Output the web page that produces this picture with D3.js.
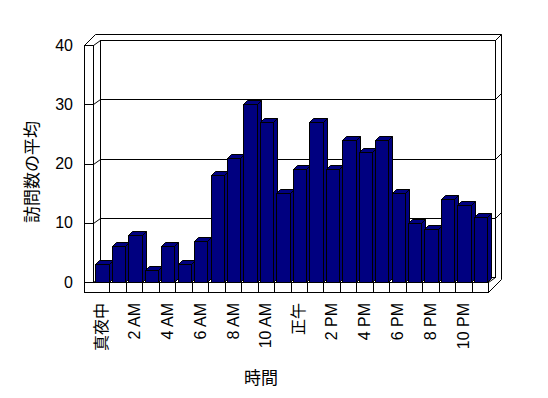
<!DOCTYPE html>
<html>
<head>
<meta charset="utf-8">
<script src="https://cdn.jsdelivr.net/npm/d3@7"></script>
<style>
  body { margin: 0; background: #fff; }
  text { font-family: "Liberation Sans", "Noto Sans CJK JP", sans-serif; fill: #000; }
</style>
</head>
<body>
<svg id="chart" width="548" height="398"></svg>
<script>
// data
const categories = ["真夜中","1 AM","2 AM","3 AM","4 AM","5 AM","6 AM","7 AM","8 AM","9 AM","10 AM","11 AM",
                    "正午","1 PM","2 PM","3 PM","4 PM","5 PM","6 PM","7 PM","8 PM","9 PM","10 PM","11 PM"]
const visits = [3,6,8,2,6,3,7,18,21,30,27,15,19,27,19,24,22,24,15,10,9,14,13,11]
const yTicks = [0,10,20,30,40]
const gridValues = [10,20,30]

const svg = d3.select("#chart")

// plot frame (front face of the floor / walls)
const left = 93, right = 488, base = 282
const wallX = 84, floorBottom = 292
// depth offset from front plane to back wall
const ddx = 7, ddy = -5
// thickness of back wall
const tdx = 6, tdy = -6
// bar depth
const bdx = 4, bdy = -4

const x = d3.scaleBand().domain(categories).range([left, right])
const y = d3.scaleLinear().domain([0, 40]).range([base, 45])
const bw = x.bandwidth()

const g = svg.append("g").attr("transform", "translate(0.5,0.5)")
const line = (pts) => "M" + pts.map(p => p.join(",")).join("L")
const stroke = (sel) => sel.attr("fill", "none").attr("stroke", "#000").attr("stroke-width", 1)

const plotTop = y(40)
const backL = left + ddx, backR = right + ddx, backTop = plotTop + ddy, backBase = base + ddy

// back wall and outer edge
g.append("rect").attr("x", backL).attr("y", backTop).attr("width", backR - backL).attr("height", backBase - backTop)
  .attr("fill", "#fff").attr("stroke", "#000")
g.append("path").attr("d", line([[wallX, plotTop], [wallX + 11, backTop + tdy], [backR + tdx, backTop + tdy],
                                 [backR + tdx, backBase + 2], [right, floorBottom]])).call(stroke)
g.append("path").attr("d", line([[backR, backTop], [backR + tdx, backTop + tdy]])).call(stroke)

// left wall
g.append("rect").attr("x", wallX).attr("y", plotTop).attr("width", left - wallX).attr("height", base - plotTop)
  .attr("fill", "#fff").attr("stroke", "#000")
g.append("path").attr("d", line([[left, plotTop], [backL, backTop]])).call(stroke)

// floor
g.append("rect").attr("x", wallX).attr("y", base).attr("width", right - wallX).attr("height", floorBottom - base)
  .attr("fill", "#fff").attr("stroke", "#000")
g.append("path").attr("d", line([[right, base], [backR, backBase]])).call(stroke)
g.append("path").attr("d", line([[left, base], [backL, backBase]])).call(stroke)

// floor cell dividers
g.selectAll(".cell").data(categories.slice(1)).enter().append("line")
  .attr("x1", d => Math.round(x(d))).attr("x2", d => Math.round(x(d)))
  .attr("y1", base).attr("y2", floorBottom).call(stroke)

// gridlines
g.selectAll(".grid").data(gridValues).enter().append("path")
  .attr("d", d => line([[wallX, Math.round(y(d))], [left, Math.round(y(d))],
                         [backL, Math.round(y(d)) + ddy], [backR, Math.round(y(d)) + ddy],
                         [backR + tdx, Math.round(y(d)) + ddy + tdy]]))
  .call(stroke)

// bars
const bars = g.selectAll(".bar").data(visits).enter().append("g")
const bx0 = (d, i) => Math.round(x(categories[i]) + bw * 0.14)
const bx1 = (d, i) => Math.round(x(categories[i]) + bw * 0.95)
bars.append("path")
  .attr("d", (d, i) => line([[bx1(d, i), Math.round(y(d))], [bx1(d, i) + bdx, Math.round(y(d)) + bdy],
                              [bx1(d, i) + bdx, base + bdy], [bx1(d, i), base]]) + "Z")
  .attr("fill", "#000080").attr("stroke", "#000")
bars.append("path")
  .attr("d", (d, i) => line([[bx0(d, i), Math.round(y(d))], [bx0(d, i) + bdx, Math.round(y(d)) + bdy],
                              [bx1(d, i) + bdx, Math.round(y(d)) + bdy], [bx1(d, i), Math.round(y(d))]]) + "Z")
  .attr("fill", "#000080").attr("stroke", "#000")
bars.append("rect")
  .attr("x", bx0).attr("y", d => Math.round(y(d)))
  .attr("width", (d, i) => bx1(d, i) - bx0(d, i)).attr("height", d => base - Math.round(y(d)))
  .attr("fill", "#000080").attr("stroke", "#000")

// y axis labels
const yAxis = svg.append("g").attr("transform", "translate(73,0)")
  .call(d3.axisLeft(y).tickValues(yTicks).tickSize(0).tickPadding(0))
yAxis.select(".domain").remove()
yAxis.selectAll("text").attr("font-size", 16).attr("font-family", null)

// x axis labels, every second hour
const xAxis = svg.append("g").attr("transform", "translate(0,300)")
  .call(d3.axisBottom(x).tickValues(categories.filter((d, i) => i % 2 === 0)).tickSize(0))
xAxis.select(".domain").remove()
xAxis.selectAll("text")
  .attr("font-size", 16).attr("font-family", null)
  .attr("text-anchor", "end")
  .attr("x", -3).attr("y", 0).attr("dy", "0.35em")
  .attr("transform", "rotate(-90)")

// titles
svg.append("text").attr("transform", "translate(38,172) rotate(-90)")
  .attr("text-anchor", "middle").attr("font-size", 17).text("訪問数の平均")
svg.append("text").attr("x", 261).attr("y", 384)
  .attr("text-anchor", "middle").attr("font-size", 17).text("時間")
</script>
</body>
</html>
